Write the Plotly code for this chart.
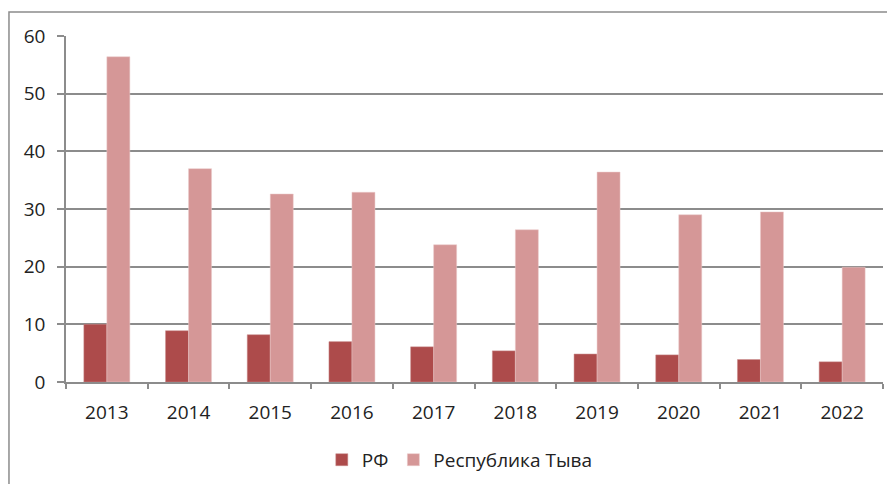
import plotly.graph_objects as go

years = ['2013', '2014', '2015', '2016', '2017', '2018', '2019', '2020', '2021', '2022']
rf = [10.0, 8.9, 8.2, 7.0, 6.1, 5.4, 4.85, 4.7, 3.9, 3.5]
tyva = [56.4, 37.0, 32.6, 32.9, 23.8, 26.4, 36.4, 29.0, 29.5, 19.9]

fig = go.Figure()

fig.add_trace(go.Bar(
    x=years, y=rf, name='РФ',
    marker=dict(color='#AD4B4B', line=dict(color='#C98A8A', width=0.5))
))
fig.add_trace(go.Bar(
    x=years, y=tyva, name='Республика Тыва',
    marker=dict(color='#D59797', line=dict(color='#EBCACA', width=0.5))
))

# outer frame of the chart (cropped on the right and bottom)
fig.add_shape(type='rect', xref='paper', yref='paper',
              x0=-0.0698, y0=-0.6, x1=1.3, y1=1.0694,
              line=dict(color='#8C8C8C', width=1.5), layer='below')

fig.update_layout(
    width=895, height=484,
    margin=dict(l=58, r=20, t=28, b=110, autoexpand=False),
    paper_bgcolor='white', plot_bgcolor='white',
    barmode='group', bargap=0.437, bargroupgap=0,
    font=dict(family='Open Sans', size=19, color='#222222'),
    showlegend=True,
    legend=dict(orientation='h', x=0.482, xanchor='center', y=-0.225, yanchor='middle',
                font=dict(size=19), traceorder='normal', bgcolor='rgba(0,0,0,0)')
)

fig.update_xaxes(
    type='category', tickson='boundaries', ticks='outside', ticklen=5,
    tickcolor='#8C8C8C', tickwidth=1.5, showline=True, linecolor='#8C8C8C', linewidth=1.5,
    showgrid=False, tickfont=dict(size=19), automargin=False, ticklabelstandoff=12
)
fig.update_yaxes(
    range=[0, 60], dtick=10, ticks='outside', ticklen=7, tickcolor='#8C8C8C', tickwidth=1.5,
    showline=True, linecolor='#8C8C8C', linewidth=1.5,
    showgrid=True, gridcolor='#8C8C8C', gridwidth=1.5, zeroline=False,
    tickfont=dict(size=19), automargin=False, ticklabelstandoff=8
)

fig.write_html("out.html")
